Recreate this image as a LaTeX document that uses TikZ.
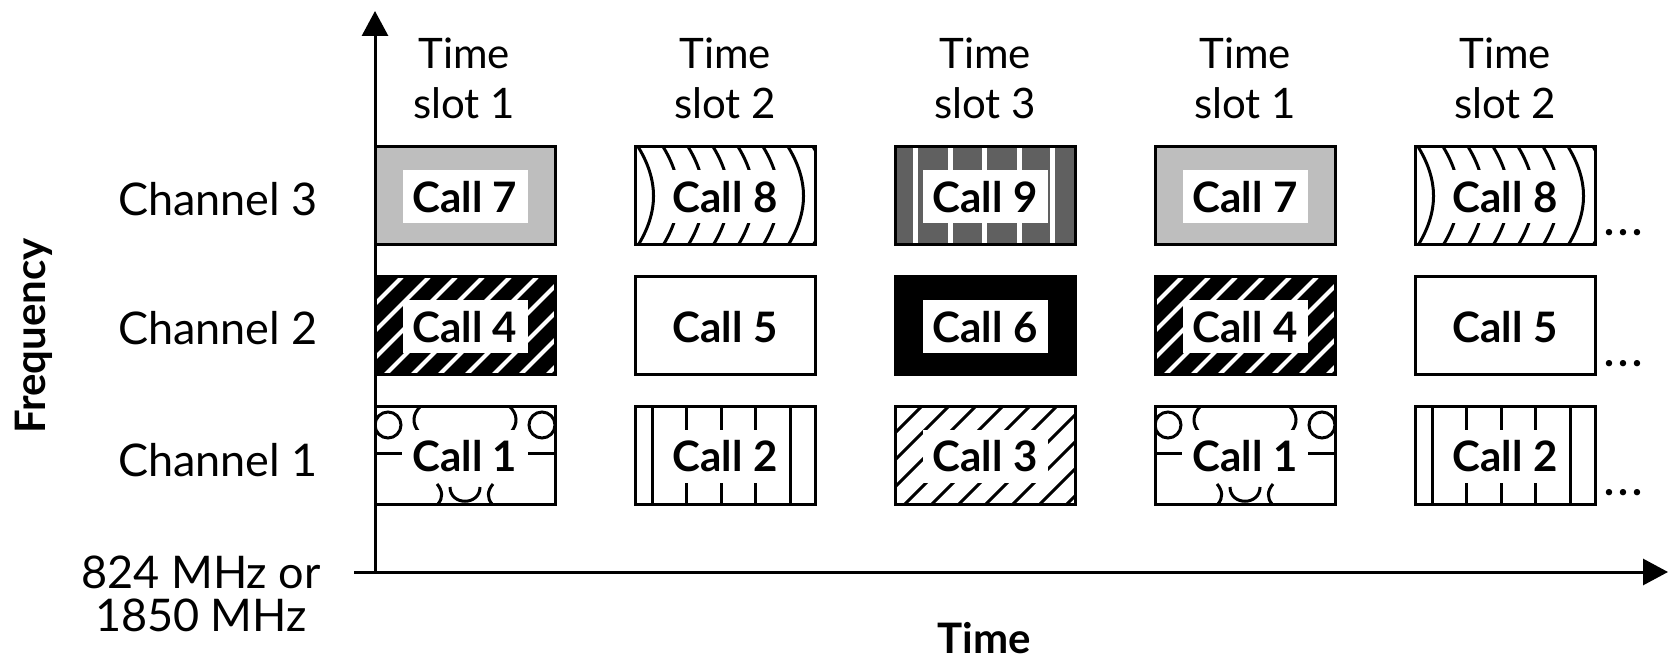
\documentclass[tikz,border=0pt]{standalone}
\usepackage{fontspec}
\setmainfont{Lato}
\usetikzlibrary{arrows.meta}
\definecolor{lightgrey}{RGB}{190,190,190}
\definecolor{darkgrey}{RGB}{96,96,96}

\tikzset{
  cellbox/.style={draw, line width=1.5pt, minimum width=90pt, minimum height=49pt, inner sep=0pt},
  calltext/.style={fill=white, font=\fontsize{21}{25}\selectfont\bfseries,
                   minimum width=62.5pt, minimum height=26.5pt, inner sep=0pt},
  hatch/.style={line width=1.5pt},
  axis/.style={line width=1.5pt, -{Triangle[width=13pt,length=12.5pt]}},
  lbl/.style={font=\fontsize{21}{25}\selectfont, align=center, inner sep=0pt},
  boldlbl/.style={font=\fontsize{21}{25}\selectfont\bfseries, inner sep=0pt},
}

% fill patterns, in local cell coordinates (0..180 wide, 0..98 high, y down)
\newcommand\patGreyFrame{\fill[lightgrey] (0,0) rectangle (180,98);}
\newcommand\patArcs{\foreach \a in {2,27,...,177}
  \draw[hatch] (\a,-2) .. controls (\a+22,33) and (\a+22,65) .. (\a,100);}
\newcommand\patStripes{\fill[darkgrey] (0,0) rectangle (180,98);
  \foreach \a in {20,55,89,124,157} \fill[white] (\a-2.5,0) rectangle (\a+2.5,98);}
\newcommand\patBlackHatch{\fill[black] (0,0) rectangle (180,98);
  \foreach \a in {-100,-73,...,190} \draw[white, line width=2pt] (\a,100) -- (\a+100,0);}
\newcommand\patSolid{\fill[black] (0,0) rectangle (180,98);}
\newcommand\patPlain{}
\newcommand\patHatch{\foreach \a in {-100,-73,...,190}
  \draw[hatch] (\a,100) -- (\a+100,0);}
\newcommand\patBars{\foreach \a in {17,51.5,86,120.5,155}
  \draw[hatch] (\a,0) -- (\a,98);}
\newcommand\patRings{%
  \draw[hatch] (13,19) circle[radius=6.5pt];
  \draw[hatch] (167,19) circle[radius=6.5pt];
  \draw[hatch] (46,0) .. controls (37,8) and (37,18) .. (44,26);
  \draw[hatch] (134,0) .. controls (143,8) and (143,18) .. (136,26);
  \draw[hatch] (75,81) .. controls (75,100) and (105,100) .. (105,81);
  \draw[hatch] (62,78) .. controls (68,85) and (68,92) .. (63,98);
  \draw[hatch] (118,78) .. controls (112,85) and (112,92) .. (117,98);
  \draw[hatch] (0,47) -- (27,47);
  \draw[hatch] (153,47) -- (180,47);}

% one time-slot cell: name, left, top, pattern, label
\newcommand\cell[5]{%
  \begin{scope}[shift={(#2,#3)}]
    \begin{scope}
      \clip (0,0) rectangle (180,98);
      #4
    \end{scope}
    \node[calltext] (#1-t) at (90,50) {#5};
    \node[cellbox] (#1) at (90,49) {};
  \end{scope}}

\begin{document}
\begin{tikzpicture}[x=0.5pt,y=-0.5pt]
\path[use as bounding box] (0,0) rectangle (1669,662);

% axes
\coordinate (origin) at (375,572);
\coordinate (ytip) at (375,11);
\coordinate (xstart) at (354,572);
\coordinate (xtip) at (1668,572);
\draw[axis] (origin) -- (ytip);
\draw[axis] (xstart) -- (xtip);

% channel 3
\cell{c31}{375}{147}{\patGreyFrame}{Call 7}
\cell{c32}{635}{147}{\patArcs}{Call 8}
\cell{c33}{895}{147}{\patStripes}{Call 9}
\cell{c34}{1155}{147}{\patGreyFrame}{Call 7}
\cell{c35}{1415}{147}{\patArcs}{Call 8}
% channel 2
\cell{c21}{375}{277}{\patBlackHatch}{Call 4}
\cell{c22}{635}{277}{\patPlain}{Call 5}
\cell{c23}{895}{277}{\patSolid}{Call 6}
\cell{c24}{1155}{277}{\patBlackHatch}{Call 4}
\cell{c25}{1415}{277}{\patPlain}{Call 5}
% channel 1
\cell{c11}{375}{406}{\patRings}{Call 1}
\cell{c12}{635}{406}{\patBars}{Call 2}
\cell{c13}{895}{406}{\patHatch}{Call 3}
\cell{c14}{1155}{406}{\patRings}{Call 1}
\cell{c15}{1415}{406}{\patBars}{Call 2}

% time slot headings
\node[lbl] (slot1) at (464,78) {Time\\slot 1};
\node[lbl] (slot2) at (725,78) {Time\\slot 2};
\node[lbl] (slot3) at (985,78) {Time\\slot 3};
\node[lbl] (slot4) at (1245,78) {Time\\slot 1};
\node[lbl] (slot5) at (1505,78) {Time\\slot 2};

% channel labels
\node[lbl, font=\fontsize{22.5}{25}\selectfont] (ch3) at (218,199) {Channel 3};
\node[lbl, font=\fontsize{22.5}{25}\selectfont] (ch2) at (218,328) {Channel 2};
\node[lbl, font=\fontsize{22.5}{25}\selectfont] (ch1) at (218,460) {Channel 1};

% continuation dots
\node[boldlbl, anchor=base west] (dots3) at (1604,236) {.\hspace{2pt}.\hspace{2pt}.};
\node[boldlbl, anchor=base west] (dots2) at (1604,366) {.\hspace{2pt}.\hspace{2pt}.};
\node[boldlbl, anchor=base west] (dots1) at (1604,495) {.\hspace{2pt}.\hspace{2pt}.};

% axis labels
\node[lbl, font=\fontsize{22.5}{21.5}\selectfont] (fbase) at (201,594) {824 MHz or\\1850 MHz};
\node[boldlbl] (tlabel) at (984,638) {Time};
\node[boldlbl, rotate=90] (flabel) at (34,336) {Frequency};
\end{tikzpicture}
\end{document}
